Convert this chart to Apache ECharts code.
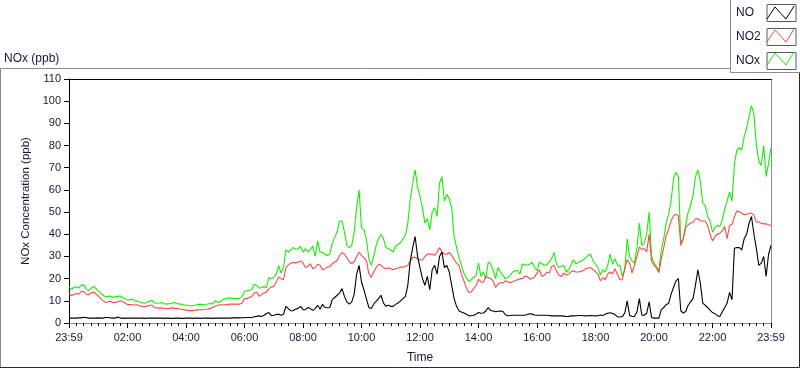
<!DOCTYPE html>
<html>
<head>
<meta charset="utf-8">
<script src="https://cdn.jsdelivr.net/npm/echarts@6/dist/echarts.min.js"></script>
<style>html,body{margin:0;padding:0;background:#fff}#c{width:800px;height:369px}</style>
</head>
<body>
<div id="c"></div>
<script>
// ---- data (minutes after midnight, 5-minute readings) ----
const seriesNames = ['NO', 'NO2', 'NOx'];
const xTickLabels = ['23:59','02:00','04:00','06:00','08:00','10:00','12:00','14:00','16:00','18:00','20:00','22:00','23:59'];
const minutes = [];
for (let m = 0; m <= 1440; m += 5) minutes.push(m);

const noValues = [
  // 00:00 - 05:55
  2.2,2.2,2.2,2.2,2.3,2.3,2.6,2.5,2.2,2.2, 2.2,2.2,2.3,2.2,2.2,2.5,2.5,2.3,2.2,2.2,
  2.7,2.2,2.2,2.1,2.2,2.2,2.2,2.2,2.2,2.2, 2.2,2.1,2.2,2.2,2.2,2.2,2.2,2.2,2.2,2.1,
  2.2,2.2,2.1,2.1,2.2,2.2,2.1,2.1,2.2,2.2, 2.2,2.1,2.2,2.2,2.1,2.2,2.2,2.2,2.2,2.1,
  2.2,2.2,2.2,2.2,2.2,2.2,2.2,2.3,2.3,2.4, 2.3,2.4,
  // 06:00 - 12:00
  2.4,2.5,2.5,2.5,2.8,3,3.2,2.9,3.5,4.3, 4.7,3.3,3.5,3.8,4,3.5,4,7.5,6.5,5.5,
  5.6,6.2,6.6,7.5,6,6,7,6.5,5.7,6.5, 8,6.2,8.4,7,6.9,7,10.5,11.5,12.5,13.5,
  15.5,12,9.5,8.5,9.5,13,22,26,18.5,15, 11,7,6.5,8.5,9.8,11,12.5,9,7.6,8,
  7.5,7.5,8.4,9,10,11,12,17,28,34, 39,30,25,
  // 12:05 - 18:00
  20,17,21,15,24,26,22,30,32,25, 26,23,17,11,7.5,5.4,5,4.5,4,3.3,
  3.3,3.5,4,4.7,4.4,4.5,5.4,7,5.6,5.4, 5.1,5.3,5.4,5.3,3.7,3.3,3.4,3.5,3.5,3.5,
  3.5,3.5,3.5,3.8,4.2,4,3.6,3.5,3.5,3.5, 3.5,3.5,3.4,3.2,3.2,3.2,3.2,3.2,3.1,2.9,
  3,3.2,3.2,3.3,3.4,3.4,3.3,3.2,3.3,3.4, 3.3,3.2,
  // 18:05 - 24:00
  3.3,3.6,3.4,4,4.4,4.6,4.3,3.8,2.8,2.7, 2.9,4.5,10,3.5,2.9,3,5,11,3.5,3.5,
  4.4,9.5,2.5,2.2,2.2,2.2,6,7,8.3,8.8, 13,16,19,20,5.5,4.5,5.2,8,9.5,11,
  17,24,18,9,8,7,5.8,4.7,4.2,3.3, 2.9,5,7,9,13.8,10.5,33.7,34,34,33,
  38,40,45,48,40,33.5,26,27,30,21, 31,35
];
const no2Values = [
  13.5,12.3,12.8,13.3,13,14.2,14.2,13,12.7,13.5, 14,13.2,12.2,11,10,9.3,9.5,9.8,9.2,9.3,
  9.6,9.9,9.8,9,8.3,8.3,8.2,8.1,8.2,7.8, 7.5,7.3,7.6,7.9,8.1,7,6.8,6.7,6.9,6.6,
  6.5,6.6,6.8,6.7,6.6,6.4,6.2,6,5.8,5.6, 5.7,5.6,5.8,5.9,6,6,6.1,6.3,6.6,7,
  7.6,8,8.2,8.2,8.2,8.3,8.5,8.5,8.5,8.5, 8.5,9,
  11,11,11.5,12,13.5,14,12,12.8,13.5,14, 15.5,16.3,16.5,18.5,20.7,20,19.5,25,26.2,27,
  27.4,27,27.5,28,27,25,25.5,26.7,24.5,25, 26.5,26,24,24.5,25.2,25.5,26.7,27.5,28.2,30.5,
  31.7,31,29.5,27.5,26.8,27.5,30,32,30.5,29.5, 28.2,22.3,20.5,23,25,26.5,26,25,24.5,24.8,
  24.5,24,24.5,24.8,25.2,25.2,25.5,26,28,29.6, 29.6,29,28.5,
  28.3,30,31,31.1,31,30.5,32,34,32,31.1, 31,31.8,30.5,28.5,27,26,22,19,16,13.8,
  14,15.5,17,19.8,18.5,18.3,21,20.5,20,19, 16,17.5,18.3,18,19,18.5,18.3,18.6,19,19.5,
  20,20,21,21,19.8,20,20.8,22.5,24,21, 21.5,23,22.5,25.5,26,23.5,21.5,21,22.5,21.6,
  22,23.2,23.5,23,23,23.3,23.6,24.5,24.8,25, 24,23.2,
  22,19,20.5,19.5,22,23,22.2,24.5,22,19.5, 19.5,24.5,28.6,27,22.5,26,30,34.2,33.3,33.5,
  32,40,28,26,24.8,22.7,29,34,39.5,42.2, 46,48.4,49,48.4,35,38,43,44.3,45,45.5,
  46.9,47,46,46,46,44,40,37,39,40, 40.5,41.5,43.5,38,44,44.5,48,50.5,50.3,49.5,
  48.8,49,49.5,49.5,48.5,45.5,45.5,45,44.7,44.7, 44.3,44
];
const noxValues = [
  16.3,15.2,16,16.3,15.8,17,17.2,15.5,14.6,15.5, 16.6,15.6,14.4,13.5,12.5,11.7,12,12.2,11.5,12,
  12,12.2,11.4,11,10.3,10.5,10.7,10,9.8,9.5, 9.2,8.9,9.2,9.8,10.3,9,8.9,9,9.2,8.8,
  8.5,8.7,8.9,9.2,9,8.6,8.5,8.2,8.1,7.8, 7.8,7.8,8.1,8.5,8.4,8.2,8.3,8.6,8.8,8.6,
  10,9.3,9.6,10.5,10.9,11.2,11.4,11.2,11,11, 11.1,12,
  14.2,14.5,14.8,15,17.5,17,15.7,16,16.4,16, 20.5,20,20.5,22,26,22.5,25,33,32,33,
  34,33.3,33.5,34.7,32,33.5,32,33,34.7,30, 37,32,31.8,31,30.4,31,36,38.5,41,46,
  46,41,35,34,35,41,52,60,43,42, 38,29,26,30,35,38,40,38,34,33.5,
  33,32,34.7,35.5,36.2,38,39.5,45,56,63, 69,61,57,
  52,45,47,42,50,52,48,63,66,55, 58,56,52,39,34,29.6,26,22.5,20.5,18.6,
  19.5,20.5,21.5,27,21,23,20,27.5,26.5,24, 20,25,23,21.5,20,20.5,21.5,23,23.5,23.8,
  22,26.7,26.2,26,26.5,27.4,25,23.5,27.4,26.7, 26,26.2,27.4,29,31.8,26.5,25,25.5,26,23,
  24,26.5,28.5,26.7,27.4,28,28.5,29.6,30.5,31, 28,26.5,
  25,21.5,24,23,26,31,26.5,29,26,26, 21,24,38,30,27.9,27,34,45,35,36,
  40,50,30,27,25.3,23.5,33,38,45,49, 55,65,68,66,36,38,44,50,53,57.5,
  66,69,64,54,53,48,46,41,43,44, 43.5,46.5,51.3,55,59,55,72,78,79,78,
  84,88,93,98,94,80,73,71,80,66, 72,79
];

const colors = { NO: '#000000', NO2: '#ff4646', NOx: '#14f000' };
const textColor = '#16163c';
const font = 'Liberation Sans';

const chart = echarts.init(document.getElementById('c'), null, { renderer: 'canvas' });

function pairs(vals) { return minutes.map((m, i) => [m, vals[i]]); }
function zig(x0, y0, color) {
  return { type: 'polyline', silent: true, z: 100,
    shape: { points: [[x0 + 1, y0 + 15], [x0 + 9, y0 + 3], [x0 + 20, y0 + 15], [x0 + 28, y0 + 2]] },
    style: { stroke: color, lineWidth: 1, fill: null } };
}

const option = {
  animation: false,
  backgroundColor: '#ffffff',
  textStyle: { fontFamily: font, color: textColor },
  title: {
    text: 'NOx (ppb)', left: 4, top: 53, padding: 0,
    textStyle: { fontFamily: font, fontSize: 12, fontWeight: 'normal', color: textColor }
  },
  legend: {
    data: seriesNames,
    orient: 'vertical',
    left: 736, top: 4, padding: 0,
    align: 'right',
    itemWidth: 29, itemHeight: 17, itemGap: 6,
    icon: 'rect',
    itemStyle: { color: '#ffffff', borderColor: '#5a5a5a', borderWidth: 1 },
    lineStyle: { opacity: 0 },
    formatter: name => '{a|' + name + '}',
    textStyle: { fontFamily: font, fontSize: 12, color: textColor,
      rich: { a: { width: 26, align: 'left', fontFamily: font, fontSize: 12, color: textColor } } },
    selectedMode: false
  },
  grid: { left: 69, right: 29, top: 79, bottom: 40, containLabel: false },
  xAxis: [{
    type: 'value', min: 0, max: 1440, interval: 120,
    name: 'Time', nameLocation: 'middle', nameGap: 29,
    nameTextStyle: { fontFamily: font, fontSize: 12, color: textColor },
    axisLine: { show: true, lineStyle: { color: '#8c8c8c', width: 1 } },
    axisTick: { show: true, length: 5, lineStyle: { color: '#000' } },
    minorTick: { show: true, splitNumber: 8, length: 3, lineStyle: { color: '#000' } },
    splitLine: { show: false },
    axisLabel: { fontFamily: font, fontSize: 11, color: textColor, margin: 9,
      formatter: v => xTickLabels[Math.round(v / 120)] }
  }, {
    type: 'value', min: 0, max: 1440, position: 'top',
    axisLine: { show: true, onZero: false, lineStyle: { color: '#000', width: 1 } },
    axisTick: { show: false }, axisLabel: { show: false }, splitLine: { show: false }
  }],
  yAxis: [{
    type: 'value', min: 0, max: 110, interval: 10,
    name: 'NOx Concentration (ppb)', nameLocation: 'middle', nameGap: 24, nameRotate: 90,
    nameTextStyle: { fontFamily: font, fontSize: 11.5, color: textColor },
    axisLine: { show: true, lineStyle: { color: '#000', width: 1 } },
    axisTick: { show: true, length: 5, lineStyle: { color: '#000' } },
    splitLine: { show: false },
    axisLabel: { fontFamily: font, fontSize: 11, color: textColor, margin: 8 }
  }, {
    type: 'value', min: 0, max: 110, position: 'right',
    axisLine: { show: true, onZero: false, lineStyle: { color: '#8c8c8c', width: 1 } },
    axisTick: { show: false }, axisLabel: { show: false }, splitLine: { show: false }
  }],
  series: [
    { name: 'NO', type: 'line', data: pairs(noValues), showSymbol: false, symbol: 'none', z: 5,
      lineStyle: { color: colors.NO, width: 1.1 }, itemStyle: { color: colors.NO } },
    { name: 'NO2', type: 'line', data: pairs(no2Values), showSymbol: false, symbol: 'none', z: 4,
      lineStyle: { color: colors.NO2, width: 1.1 }, itemStyle: { color: colors.NO2 } },
    { name: 'NOx', type: 'line', data: pairs(noxValues), showSymbol: false, symbol: 'none', z: 3,
      lineStyle: { color: colors.NOx, width: 1.1 }, itemStyle: { color: colors.NOx } }
  ],
  graphic: [
    { type: 'polyline', silent: true, z: -1,
      shape: { points: [[0.5, 368], [0.5, 68.5], [731, 68.5]] },
      style: { stroke: '#8c8c8c', lineWidth: 1, fill: null } },
    { type: 'polyline', silent: true, z: -1,
      shape: { points: [[0, 367.5], [799.5, 367.5], [799.5, 68]] },
      style: { stroke: '#2a2a2a', lineWidth: 1, fill: null } },
    { type: 'rect', silent: true, z: -1,
      shape: { x: 730.5, y: -1, width: 70, height: 73.5 },
      style: { fill: '#ffffff', stroke: '#8c8c8c', lineWidth: 1 } },
    zig(766, 4, colors.NO),
    zig(766, 27, colors.NO2),
    zig(766, 50, colors.NOx)
  ]
};
chart.setOption(option);
</script>
</body>
</html>
